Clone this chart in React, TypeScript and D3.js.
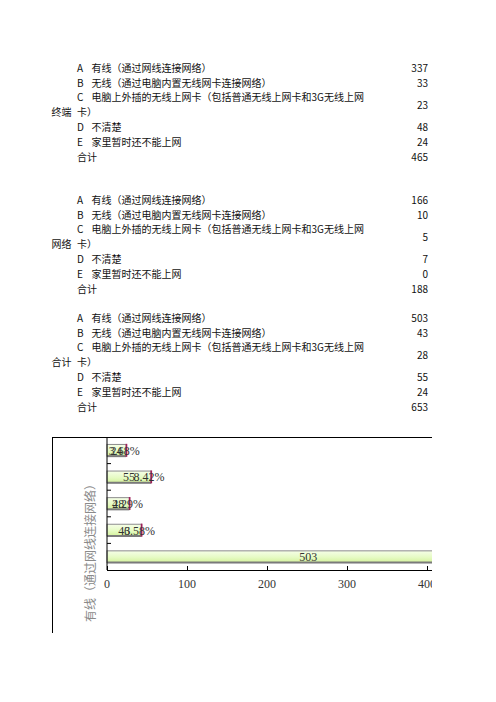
import React from 'react';
import * as d3 from 'd3';

// table data
const codes = ['A', 'B', 'C', 'D', 'E'];
const descriptions = [
  ['有线（通过网线连接网络）'],
  ['无线（通过电脑内置无线网卡连接网络）'],
  ['电脑上外插的无线上网卡（包括普通无线上网卡和3G无线上网', '卡）'],
  ['不清楚'],
  ['家里暂时还不能上网'],
];
const groups = ['终端', '网络', '合计'];
const terminalValues = [337, 33, 23, 48, 24];
const networkValues = [166, 10, 5, 7, 0];
const combinedValues = [503, 43, 28, 55, 24];
const totals = [465, 188, 653];
const totalLabel = '合计';

const chartPercents = [0.7703, 0.0658, 0.0429, 0.0842, 0.0368];
const xTicks = [0, 100, 200, 300, 400];
const axisTitle = '有线（通过网线连接网络）';

const CJK = '"Noto Sans CJK SC", "Noto Sans", sans-serif';
const SERIF = '"Liberation Serif", "DejaVu Serif", serif';

const blockTops = [67.3, 199.3, 317.3];
const rowStep = 14.8;
const visibleRight = 432;

const Table: React.FC = () => {
  const blocks = [terminalValues, networkValues, combinedValues];
  return (
    <g fontFamily={CJK} fontSize={10} fill="#111">
      {blocks.map((vals, b) => {
        const top = blockTops[b];
        // row positions: A, B, C (2 lines), D, E, total
        const rowY = [0, 1, 2.5, 4, 5].map(r => top + r * rowStep);
        return (
          <g key={b}>
            <text x={51.5} y={top + 3 * rowStep} dominantBaseline="central">
              {groups[b]}
            </text>
            {codes.map((c, i) => (
              <g key={c}>
                {descriptions[i].map((line, li) => {
                  const yy = descriptions[i].length > 1
                    ? top + (2 + li) * rowStep
                    : rowY[i];
                  return (
                    <g key={li}>
                      {li === 0 && (
                        <text x={77} y={yy} dominantBaseline="central">{c}</text>
                      )}
                      <text x={li === 0 ? 91.5 : 77} y={yy} dominantBaseline="central">{line}</text>
                    </g>
                  );
                })}
                <text x={428} y={rowY[i]} textAnchor="end" dominantBaseline="central">
                  {vals[i]}
                </text>
              </g>
            ))}
            <text x={77} y={top + 6 * rowStep} dominantBaseline="central">{totalLabel}</text>
            <text x={428} y={top + 6 * rowStep} textAnchor="end" dominantBaseline="central">
              {totals[b]}
            </text>
          </g>
        );
      })}
    </g>
  );
};

const Chart: React.FC = () => {
  const plotTop = 437;
  const plotBottom = 570;
  const x = d3.scaleLinear().domain([0, 600]).range([107, 587]);
  const order = [...codes].reverse(); // E at top, A at bottom
  const y = d3.scaleBand<string>()
    .domain(order)
    .range([plotTop, plotBottom])
    .paddingInner(0.56)
    .paddingOuter(0.28);
  const boundaries = d3.range(1, order.length).map(i => plotTop + i * y.step());

  return (
    <g>
      <defs>
        <clipPath id="pageClip">
          <rect x={0} y={0} width={visibleRight} height={633} />
        </clipPath>
        <linearGradient id="barFill" x1="0" y1="0" x2="0" y2="1">
          <stop offset="0%" stopColor="#f6ffe8" />
          <stop offset="55%" stopColor="#e6fbc4" />
          <stop offset="100%" stopColor="#d4f29c" />
        </linearGradient>
      </defs>
      <g clipPath="url(#pageClip)">
        {/* chart area border */}
        <line x1={52} x2={440} y1={437.5} y2={437.5} stroke="#000" />
        <line x1={52.5} x2={52.5} y1={437} y2={640} stroke="#000" />

        {/* bars */}
        {codes.map((c, i) => {
          const v = combinedValues[i];
          const p = chartPercents[i];
          const y0 = y(c) || 0;
          const h = y.bandwidth();
          const x0 = x(0);
          const x1 = x(v);
          const x2 = x(v + p);
          return (
            <g key={c}>
              <rect x={x0} y={y0} width={x1 - x0} height={h}
                fill="url(#barFill)" stroke="#8c8c8c" strokeWidth={1} />
              <line x1={x0} x2={x1} y1={y0 + h} y2={y0 + h} stroke="#7a7a7a" strokeWidth={2} />
              <rect x={x1} y={y0} width={Math.max(x2 - x1, 0.5)} height={h}
                fill="#c03060" stroke="#a0205a" strokeWidth={1.2} />
              <text x={(x0 + x1) / 2} y={y0 + h / 2 + 0.5} textAnchor="middle"
                dominantBaseline="central" fontFamily={SERIF} fontSize={12} fill="#333">
                {v}
              </text>
              {x1 < visibleRight && (
                <text x={x1 - 2} y={y0 + h / 2 + 0.5} textAnchor="middle"
                  dominantBaseline="central" fontFamily={SERIF} fontSize={12} fill="#333">
                  {(p * 100).toFixed(2)}%
                </text>
              )}
            </g>
          );
        })}

        {/* axes */}
        <line x1={x(0)} x2={x(0)} y1={plotTop} y2={plotBottom} stroke="#000" />
        <line x1={x(0)} x2={x(600)} y1={plotBottom + 0.5} y2={plotBottom + 0.5} stroke="#000" />
        {boundaries.map(b => (
          <line key={b} x1={x(0)} x2={x(0) + 4} y1={b} y2={b} stroke="#000" />
        ))}
        {xTicks.map(t => (
          <g key={t}>
            <line x1={x(t) + 0.5} x2={x(t) + 0.5} y1={plotBottom} y2={plotBottom - 4} stroke="#000" />
            <text x={x(t)} y={583.5} textAnchor="middle" dominantBaseline="central"
              fontFamily={SERIF} fontSize={12} fill="#333">
              {t}
            </text>
          </g>
        ))}

        <text transform={`translate(89, 550) rotate(-90)`} textAnchor="middle"
          dominantBaseline="central" fontFamily={CJK} fontSize={12} fill="#8a8a8a">
          {axisTitle}
        </text>
      </g>
    </g>
  );
};

const App: React.FC = () => (
  <svg width={496} height={702}
    style={{ position: 'absolute', left: 0, top: 0, display: 'block', background: '#fff' }}>
    <Table />
    <Chart />
  </svg>
);

export default App;
